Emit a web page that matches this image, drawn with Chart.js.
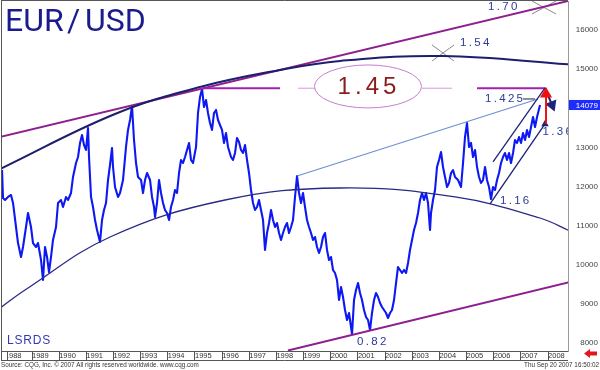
<!DOCTYPE html>
<html><head><meta charset="utf-8">
<script src="https://cdn.jsdelivr.net/npm/chart.js@4.4.1/dist/chart.umd.min.js"></script>
<style>html,body{margin:0;padding:0;background:#fff;}canvas{display:block;}</style>
</head><body>
<canvas id="c" width="600" height="370" style="width:600px;height:370px"></canvas>
<script>
// ---- price series (decimal year, EUR/USD x 10000) ----
const years = [
1987.896,1987.932,1988.006,1988.117,1988.227,1988.301,1988.411,1988.485,1988.595,1988.669,
1988.779,1988.853,1988.963,1989.037,1989.148,1989.221,1989.332,1989.405,1989.479,1989.553,
1989.626,1989.700,1989.773,1989.884,1989.958,1990.068,1990.142,1990.252,1990.326,1990.436,
1990.510,1990.620,1990.694,1990.768,1990.841,1990.915,1990.989,1991.062,1991.099,1991.173,
1991.246,1991.320,1991.394,1991.504,1991.578,1991.651,1991.725,1991.799,1991.872,1991.946,
1991.983,1992.056,1992.167,1992.240,1992.351,1992.461,1992.535,1992.609,1992.682,1992.756,
1992.830,1992.903,1993.014,1993.087,1993.161,1993.235,1993.345,1993.419,1993.492,1993.529,
1993.603,1993.676,1993.750,1993.824,1993.897,1993.971,1994.045,1994.118,1994.192,1994.266,
1994.339,1994.413,1994.486,1994.560,1994.634,1994.707,1994.781,1994.855,1994.928,1995.039,
1995.112,1995.186,1995.260,1995.333,1995.407,1995.480,1995.554,1995.628,1995.701,1995.775,
1995.849,1995.922,1995.996,1996.069,1996.143,1996.217,1996.327,1996.401,1996.475,1996.548,
1996.622,1996.696,1996.769,1996.843,1996.917,1996.990,1997.064,1997.137,1997.211,1997.285,
1997.358,1997.432,1997.506,1997.579,1997.653,1997.727,1997.800,1997.874,1997.948,1998.021,
1998.095,1998.168,1998.242,1998.316,1998.389,1998.463,1998.537,1998.610,1998.684,1998.758,
1998.831,1998.905,1998.978,1999.052,1999.126,1999.199,1999.273,1999.347,1999.420,1999.494,
1999.568,1999.641,1999.715,1999.789,1999.862,1999.936,2000.009,2000.083,2000.157,2000.230,
2000.304,2000.378,2000.451,2000.525,2000.599,2000.672,2000.746,2000.783,2000.856,2000.930,
2001.004,2001.077,2001.151,2001.224,2001.298,2001.372,2001.445,2001.519,2001.593,2001.666,
2001.740,2001.814,2001.887,2001.961,2002.035,2002.108,2002.182,2002.255,2002.329,2002.403,
2002.476,2002.550,2002.624,2002.697,2002.771,2002.845,2002.918,2002.992,2003.065,2003.139,
2003.213,2003.286,2003.360,2003.434,2003.507,2003.581,2003.655,2003.691,2003.765,2003.839,
2003.912,2003.986,2004.060,2004.133,2004.207,2004.281,2004.354,2004.428,2004.501,2004.575,
2004.686,2004.796,2004.870,2004.943,2005.017,2005.091,2005.164,2005.238,2005.312,2005.385,
2005.459,2005.532,2005.606,2005.680,2005.753,2005.827,2005.901,2005.974,2006.048,2006.122,
2006.195,2006.269,2006.343,2006.416,2006.490,2006.563,2006.637,2006.711,2006.784,2006.858,
2006.932,2007.005,2007.079,2007.153,2007.226,2007.300,2007.374,2007.447,2007.521,2007.595,
2007.705];
const prices = [
12420,11705,11654,11731,11782,11578,10964,10555,10198,10453,
10964,11322,10964,10555,10453,10555,10121,9610,10453,10198,
9814,10198,10632,10964,11578,11654,11475,11731,11654,11833,
12242,12599,12753,13111,13315,13059,12932,13494,12753,11731,
11475,11143,10888,10581,11143,11399,11578,12165,12548,12983,
12497,11986,11731,11833,12165,13008,13443,13698,14056,13187,
12599,12242,12165,11833,12165,12344,12165,11731,11475,11220,
11578,12165,11833,11578,11399,11322,11143,11475,11654,11910,
11833,12344,12676,12599,12753,12932,13111,12676,12599,13008,
13877,14286,14490,14030,14209,13877,13621,13443,13877,13954,
13698,13570,13443,13111,13366,13008,12753,12676,12855,13238,
13136,12932,12855,13059,12676,12344,11910,11578,11399,11475,
11654,11399,11143,10377,10811,11066,11399,11143,10964,11066,
10811,10632,10811,10964,11066,10811,10964,11143,11731,12267,
11833,11578,11833,11475,11143,10964,10811,10632,10709,10453,
10300,10453,10709,10811,10377,10121,10198,9866,9789,9610,
9099,9431,9176,8844,8588,8767,8409,8230,9099,9354,
9533,9278,9099,8844,8665,8588,8332,8767,9099,9278,
9176,9022,8920,8844,8767,8639,8767,8844,9099,9533,
9942,9866,9789,9866,9789,10045,10377,10632,10888,11066,
11322,11654,11833,11654,11833,11578,10888,11322,11654,11910,
12497,12676,12880,12497,12242,11986,12089,12344,12420,12242,
12165,11986,12599,13264,13621,13008,13111,12753,12932,12497,
12242,12089,12165,12497,12165,11986,11680,11986,11910,12165,
12344,12599,12753,12855,12676,12855,12599,12855,13187,13111,
13264,13111,13366,13187,13443,13264,13519,13775,13519,13775,
14079];
const lastPrice = 14079;

// ---- axis ticks ----
const yTicks = [8000,9000,10000,11000,12000,13000,14000,15000,16000];
const xTicks = [1988,1989,1990,1991,1992,1993,1994,1995,1996,1997,1998,1999,2000,2001,2002,2003,2004,2005,2006,2007,2008];

// ---- drawn study lines (year, price) ----
const upperArcYears  = [1987.822,1992.056,1995.186,1998.132,2000.341,2004.133,2008.81];
const upperArcPrices = [12446,13851,14541,14976,15206,15333,15120];
const lowerArcYears  = [1987.822,1988.743,1991.872,1996.106,2000.341,2004.575,2007.705,2008.81];
const lowerArcPrices = [8894,9354,10709,11654,11961,11731,11194,10862];
const upperTrendYears = [1987.822,2008.81];
const upperTrendPrices = [13264,16750];
const lowerTrendYears = [1998.426,2008.81];
const lowerTrendPrices = [7809,9559];
const fanYears = [1998.758,2007.63];
const fanPrices = [12267,14235];
const level145 = 14510;
const levelThickYears = [1995.186,1998.132,null,2005.385,2007.89];
const levelThinYears  = [1998.795,1999.42,null,2003.36,2004.465];
const chanUpYears = [2005.974,2007.889];
const chanUpPrices = [12625,14516];
const chanLoYears = [2005.864,2007.889];
const chanLoPrices = [11552,13596];
const redArrowYears = [2007.926,2007.926];
const redArrowPrices = [13596,14362];
const navyArrowYears = [2007.889,2008.147];
const navyArrowPrices = [14516,14081];
const dashYears = [2007.079,2007.521];
const dashPrices = [14235,14235];
const cross1Years = [2003.728,2004.538];
const cross1Prices = [15614,15205];
const cross2Years = [2007.41,2008.295];
const cross2Prices = [16738,16406];

// ---- text notes (anchor year, price) ----
const noteTexts  = ['1.70','1.54','1.425','1.36','1.16','0.82'];
const noteYears  = [2005.79,2004.76,2005.68,2007.80,2006.23,2000.97];
const notePrices = [16590,15665,14235,13391,11628,8026];
const bigNote = '1.45';
const bigNoteYear = 2001.37, bigNotePrice = 14555;

const pts = (xs, ys) => xs.map((x, i) => ({x: x, y: x === null ? null : ys[i]}));
const lvl = xs => xs.map(x => x === null ? {x: 2000, y: null} : {x: x, y: level145});

function spaced(ctx, text, x, y, sp, align) {
  const ws = [...text].map(ch => ctx.measureText(ch).width);
  const w = ws.reduce((a, b) => a + b, 0) + sp * (ws.length - 1);
  let cx = align === 'center' ? x - w / 2 : (align === 'right' ? x - w : x);
  ctx.textAlign = 'left';
  [...text].forEach((ch, i) => { ctx.fillText(ch, cx, y); cx += ws[i] + sp; });
}
function fitText(ctx, text, fam, width, base) {
  ctx.font = base + 'px ' + fam;
  const m = ctx.measureText(text).width;
  ctx.font = (base * width / m).toFixed(2) + 'px ' + fam;
}

const overlay = {
  id: 'overlay',
  afterDraw(chart) {
    const {ctx, chartArea: a, scales} = chart;
    const X = v => scales.x.getPixelForValue(v), Y = v => scales.y.getPixelForValue(v);
    ctx.save();
    // frame
    ctx.strokeStyle = '#555'; ctx.lineWidth = 1;
    ctx.beginPath();
    ctx.moveTo(a.left - 0.5, 0); ctx.lineTo(a.left - 0.5, a.bottom + 9.5);
    ctx.moveTo(a.left - 1, 0.5); ctx.lineTo(a.right, 0.5);
    ctx.moveTo(a.left - 1, a.bottom + 9.5); ctx.lineTo(a.right, a.bottom + 9.5);
    ctx.stroke();
    ctx.fillStyle = '#fff'; ctx.fillRect(a.left, a.bottom + 1, 6, 8);
    ctx.beginPath(); ctx.moveTo(a.left + 5.5, a.bottom); ctx.lineTo(a.left + 5.5, a.bottom + 9.5); ctx.stroke();

    // clipped annotations
    ctx.save();
    ctx.beginPath(); ctx.rect(a.left, a.top, a.right - a.left, a.bottom - a.top); ctx.clip();
    // title
    ctx.fillStyle = '#1b1b8f';
    ctx.font = '32px Roboto';
    ctx.textBaseline = 'alphabetic';
    ctx.textAlign = 'left';
    ctx.fillText('EUR', 5, 31);
    ctx.fillText('/', 67, 31);
    ctx.fillText('USD', 85, 31);
    // study name
    ctx.textBaseline = 'middle';
    ctx.fillStyle = '#3338bb';
    ctx.font = '12px "Liberation Sans"';
    spaced(ctx, 'LSRDS', 7, 340.5, 0.8, 'left');
    // ellipse
    const ex = X(bigNoteYear), ey = Y(bigNotePrice);
    ctx.strokeStyle = '#c97bd2'; ctx.lineWidth = 1;
    ctx.beginPath(); ctx.ellipse(ex, ey, 53.5, 21.5, 0, 0, Math.PI * 2); ctx.stroke();
    ctx.fillStyle = '#8b1c1c';
    ctx.font = '24px "Liberation Sans"';
    spaced(ctx, bigNote, ex - 1, ey + 1, 4, 'center');
    // level notes
    ctx.fillStyle = '#2c3a96';
    ctx.font = '11.5px "Liberation Sans"';
    noteTexts.forEach((t, i) => spaced(ctx, t, X(noteYears[i]), Y(notePrices[i]), 2.3, 'left'));
    ctx.restore();

    // last price tag
    const ty = Math.round(Y(lastPrice));
    ctx.fillStyle = '#1e2cff';
    ctx.fillRect(a.right + 1, ty - 5, 600 - a.right - 1, 10);
    ctx.fillStyle = '#fff';
    ctx.font = '8px "Liberation Sans"';
    ctx.textAlign = 'right'; ctx.textBaseline = 'middle';
    ctx.fillText(String(lastPrice), 598, ty + 0.5);

    // red arrow at bottom right
    ctx.fillStyle = '#e8141b';
    ctx.beginPath(); ctx.moveTo(584, 353.5); ctx.lineTo(590, 349); ctx.lineTo(590, 358); ctx.closePath(); ctx.fill();
    ctx.fillRect(590, 351.5, 7, 4);

    // footer
    ctx.fillStyle = '#333';
    ctx.textBaseline = 'middle';
    ctx.textAlign = 'left';
    const src = 'Source: CQG, Inc. \u00A9 2007 All rights reserved worldwide. www.cqg.com';
    fitText(ctx, src, '"Liberation Sans"', 198, 6);
    ctx.fillText(src, 1, 365.5);
    const stamp = 'Thu Sep 20 2007 16:50:02';
    fitText(ctx, stamp, '"Liberation Sans"', 75, 6.5);
    ctx.textAlign = 'right';
    ctx.fillText(stamp, 599, 365.5);
    ctx.restore();
  }
};

const line = (data, color, width, order, extra) => Object.assign({
  data: data, borderColor: color, borderWidth: width, pointRadius: 0,
  tension: 0, order: order, fill: false, spanGaps: false
}, extra || {});

new Chart(document.getElementById('c'), {
  type: 'line',
  data: {
    datasets: [
      line(pts(years, prices), '#0d18f2', 2.1, 10, {borderJoinStyle: 'round'}),
      line(pts(upperTrendYears, upperTrendPrices), '#8e1f8e', 2, 5),
      line(pts(lowerTrendYears, lowerTrendPrices), '#8e1f8e', 2, 5),
      line(pts(upperArcYears, upperArcPrices), '#1e1e6e', 2, 4, {tension: 0.4}),
      line(pts(lowerArcYears, lowerArcPrices), '#2a2a86', 1.3, 4, {tension: 0.4}),
      line(pts(fanYears, fanPrices), '#6f8fd2', 1.2, 3),
      line(lvl(levelThickYears), '#a323b0', 2, 3),
      line(lvl(levelThinYears), '#d79ad9', 1, 3),
      line(pts(chanUpYears, chanUpPrices), '#1f237a', 1.3, 2),
      line(pts(chanLoYears, chanLoPrices), '#1f237a', 1.3, 2,
        {pointRadius: [0, 3], pointStyle: 'triangle', pointBackgroundColor: '#1f237a', pointBorderColor: '#1f237a'}),
      line(pts(redArrowYears, redArrowPrices), '#ee1111', 2, 1,
        {pointRadius: [0, 5], pointStyle: 'triangle', pointBackgroundColor: '#ee1111', pointBorderColor: '#ee1111'}),
      line(pts(navyArrowYears, navyArrowPrices), '#1f237a', 2, 1,
        {pointRadius: [0, 5], pointStyle: 'triangle', pointRotation: 158, pointBackgroundColor: '#1f237a', pointBorderColor: '#1f237a'}),
      line(pts(dashYears, dashPrices), '#222', 1, 1),
      line(pts(cross1Years, cross1Prices), '#8a8a8a', 1, 6),
      line(pts(cross1Years, cross1Prices.slice().reverse()), '#8a8a8a', 1, 6),
      line(pts(cross2Years, cross2Prices), '#8a8a8a', 1, 6),
      line(pts(cross2Years, cross2Prices.slice().reverse()), '#8a8a8a', 1, 6)
    ]
  },
  options: {
    responsive: false, animation: false, devicePixelRatio: 1, events: [],
    layout: {autoPadding: false, padding: {left: 2, top: 1, right: 2, bottom: 10}},
    plugins: {legend: {display: false}, tooltip: {enabled: false}},
    scales: {
      x: {
        type: 'linear', position: 'bottom', min: 1987.895, max: 2008.735,
        afterBuildTicks: s => { s.ticks = xTicks.map(v => ({value: v})); },
        afterFit: s => { s.height = 9; s.paddingLeft = 0; s.paddingRight = 0; },
        grid: {drawOnChartArea: false, drawTicks: true, tickLength: 9, color: '#555', lineWidth: 1},
        border: {display: true, color: '#555'},
        ticks: {
          autoSkip: false, maxRotation: 0, align: 'start', padding: -9,
          color: '#333', font: {family: '"Liberation Sans"', size: 7.5},
          callback: v => String(v)
        }
      },
      y: {
        type: 'linear', position: 'right', min: 7796, max: 16738,
        afterBuildTicks: s => { s.ticks = yTicks.map(v => ({value: v})); },
        afterFit: s => { s.width = 30; s.paddingTop = 0; s.paddingBottom = 0; },
        grid: {display: false},
        border: {display: true, color: '#999'},
        ticks: {
          crossAlign: 'far', color: '#444', font: {family: '"Liberation Sans"', size: 8},
          callback: v => String(v)
        }
      }
    }
  },
  plugins: [overlay]
});
</script>
</body></html>
